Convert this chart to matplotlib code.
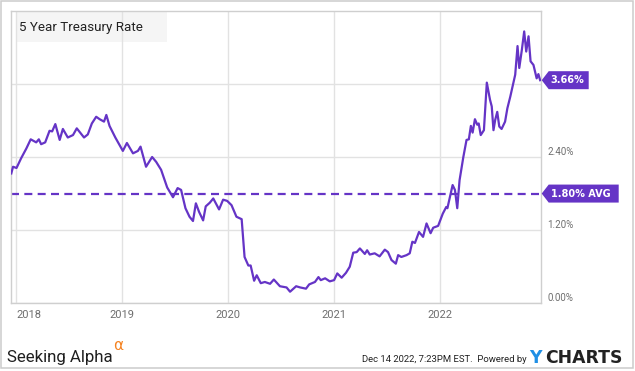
import numpy as np
import pandas as pd
import matplotlib
matplotlib.use('Agg')
import matplotlib.pyplot as plt
from matplotlib.patches import Rectangle, Polygon
from matplotlib.transforms import IdentityTransform, blended_transform_factory

# 5 year treasury rate (percent)
dates = [
    '2017-12-15', '2017-12-21', '2018-01-02', '2018-01-18', '2018-02-05', '2018-02-20',
    '2018-03-11', '2018-03-20', '2018-03-28', '2018-04-11', '2018-04-26', '2018-05-05',
    '2018-05-16', '2018-05-31', '2018-06-11', '2018-06-28', '2018-07-16', '2018-07-29',
    '2018-08-23', '2018-09-05', '2018-09-19', '2018-10-04', '2018-10-16', '2018-10-31',
    '2018-11-08', '2018-11-19', '2018-12-09', '2019-01-04', '2019-01-18', '2019-02-08',
    '2019-02-25', '2019-03-06', '2019-03-25', '2019-04-15', '2019-04-29', '2019-05-16',
    '2019-06-06', '2019-06-26', '2019-07-12', '2019-07-24', '2019-08-08', '2019-08-22',
    '2019-09-03', '2019-09-13', '2019-09-24', '2019-10-08', '2019-10-17', '2019-10-31',
    '2019-11-12', '2019-12-02', '2019-12-16', '2019-12-30', '2020-01-14', '2020-01-31',
    '2020-02-18', '2020-02-28', '2020-03-12', '2020-03-20', '2020-04-01', '2020-04-10',
    '2020-04-24', '2020-05-08', '2020-05-26', '2020-06-08', '2020-06-29', '2020-07-22',
    '2020-08-03', '2020-08-24', '2020-09-07', '2020-09-27', '2020-10-08', '2020-10-28',
    '2020-11-09', '2020-11-17', '2020-12-02', '2020-12-18', '2021-01-02', '2021-01-13',
    '2021-01-28', '2021-02-12', '2021-02-25', '2021-03-09', '2021-03-21', '2021-04-01',
    '2021-04-12', '2021-04-18', '2021-04-26', '2021-05-05', '2021-05-22', '2021-06-08',
    '2021-06-26', '2021-07-07', '2021-07-19', '2021-08-03', '2021-08-11', '2021-08-22',
    '2021-09-09', '2021-09-20', '2021-09-29', '2021-10-08', '2021-10-22', '2021-11-05',
    '2021-11-17', '2021-12-01', '2021-12-10', '2021-12-27', '2022-01-12', '2022-01-24',
    '2022-01-28', '2022-02-15', '2022-02-23', '2022-03-03', '2022-03-11', '2022-03-24',
    '2022-04-04', '2022-04-12', '2022-04-19', '2022-04-25', '2022-05-03', '2022-05-11',
    '2022-05-16', '2022-05-23', '2022-06-03', '2022-06-13', '2022-06-24', '2022-06-30',
    '2022-07-06', '2022-07-12', '2022-07-19', '2022-07-26', '2022-08-03', '2022-08-15',
    '2022-08-23', '2022-09-02', '2022-09-19', '2022-09-27', '2022-10-03', '2022-10-12',
    '2022-10-20', '2022-10-27', '2022-11-04', '2022-11-11', '2022-11-21', '2022-12-02',
    '2022-12-08', '2022-12-14',
]
rates = [
    2.13, 2.24, 2.22, 2.38, 2.54, 2.69,
    2.64, 2.69, 2.61, 2.64, 2.83, 2.82,
    2.94, 2.68, 2.86, 2.72, 2.76, 2.87,
    2.72, 2.77, 2.95, 3.06, 3.02, 2.98,
    3.09, 2.91, 2.72, 2.50, 2.63, 2.46,
    2.50, 2.57, 2.24, 2.40, 2.32, 2.19,
    1.90, 1.74, 1.89, 1.86, 1.56, 1.42,
    1.35, 1.64, 1.50, 1.36, 1.59, 1.65,
    1.72, 1.54, 1.70, 1.68, 1.61, 1.42,
    1.38, 0.76, 0.62, 0.62, 0.37, 0.46,
    0.33, 0.35, 0.32, 0.39, 0.28, 0.26,
    0.19, 0.28, 0.26, 0.24, 0.31, 0.35,
    0.43, 0.38, 0.41, 0.36, 0.38, 0.49,
    0.42, 0.50, 0.60, 0.83, 0.84, 0.90,
    0.84, 0.81, 0.87, 0.80, 0.82, 0.77,
    0.88, 0.84, 0.71, 0.65, 0.79, 0.76,
    0.79, 0.82, 1.01, 0.99, 1.17, 1.09,
    1.31, 1.15, 1.24, 1.27, 1.47, 1.58,
    1.56, 1.94, 1.86, 1.56, 2.02, 2.40,
    2.68, 2.69, 2.91, 2.80, 3.02, 2.93,
    2.95, 2.76, 2.84, 3.62, 3.34, 3.23,
    2.84, 3.01, 3.14, 2.90, 2.86, 2.98,
    3.20, 3.39, 3.75, 4.22, 3.86, 4.16,
    4.46, 4.13, 4.38, 3.97, 3.91, 3.69,
    3.76, 3.66,
]
avg_rate = 1.80
last_rate = 3.66
pct_ticks = [0.0, 1.2, 2.4, 3.6]
year_ticks = ['2018', '2019', '2020', '2021', '2022']
x_range = ('2017-12-14', '2022-12-17')
title = '5 Year Treasury Rate'
stamp = 'Dec 14 2022, 7:23PM EST.  Powered by'

purple = '#6534c6'
grey_txt = '#6e6e6e'

plt.rcParams['font.family'] = ['Roboto', 'DejaVu Sans']

W, H = 635, 371
fig = plt.figure(figsize=(W / 100, H / 100), dpi=100)
fig.patch.set_facecolor('white')
ax = fig.add_axes([11 / W, (H - 303.3) / H, 530 / W, 292.6 / H])

x = pd.to_datetime(dates)
ax.plot(x, rates, color=purple, lw=1.6, zorder=3, solid_joinstyle='round')
ax.axhline(avg_rate, color=purple, lw=1.6, ls=(0, (3.6, 2.4)), zorder=2)

ax.set_xlim(pd.to_datetime(x_range[0]), pd.to_datetime(x_range[1]))
ax.set_ylim(0, 4.8)

ax.set_xticks(pd.to_datetime([y + '-01-01' for y in year_ticks]))
ax.set_xticklabels(year_ticks)
ax.get_xticklabels()[0].set_horizontalalignment('left')
ax.tick_params(axis='x', length=0, pad=5, labelsize=8, labelcolor=grey_txt)
ax.set_yticks(pct_ticks)
ax.tick_params(axis='y', length=0, labelleft=False, labelright=False)
ax.grid(True, color='#e2e2e2', lw=1.0)
for s in ax.spines.values():
    s.set_color('#cfcfcf')
    s.set_linewidth(1.0)

# right side percent labels, sitting just above their gridlines
tr = blended_transform_factory(ax.transAxes, ax.transData)
for v in pct_ticks:
    if abs(v - last_rate) < 0.3:
        continue
    ax.text(1.0 + 6 / 530, v, '%.2f%%' % v, transform=tr, ha='left', va='bottom',
            fontsize=7, color=grey_txt, clip_on=False)

# title box
ax.add_patch(Rectangle((5 / 530, 0.894), 151 / 530, 0.106, transform=ax.transAxes,
                       facecolor='#f5f5f5', edgecolor='none', zorder=0.2))
ax.text(8.3 / 530, 0.944, title, transform=ax.transAxes, ha='left', va='center',
        fontsize=9.6, color='#222222', zorder=4)


def tag(value, text, width):
    x0 = ax.bbox.x1 + 0.7
    yc = ax.transData.transform((0, value))[1]
    pts = [(x0, yc), (x0 + 7, yc + 9), (x0 + width, yc + 9), (x0 + width, yc - 9), (x0 + 7, yc - 9)]
    fig.add_artist(Polygon(pts, closed=True, facecolor=purple, edgecolor='none',
                           transform=IdentityTransform(), zorder=5))
    fig.text((x0 + 9) / W, yc / H, text, ha='left', va='center', color='white',
             fontsize=7, fontweight='bold', family='DejaVu Sans', zorder=6)


tag(last_rate, '%.2f%%' % last_rate, 47)
tag(avg_rate, '%.2f%% AVG' % avg_rate, 77)

# footer
fig.text(7.3 / W, (H - 361.7) / H, 'Seeking Alpha', ha='left', va='baseline',
         fontsize=12.2, color='#1e1e1e')
fig.text(113 / W, (H - 350) / H, '\u03b1', ha='left', va='baseline',
         fontsize=11, color='#f58220', family='DejaVu Sans')
fig.text(361.7 / W, (H - 362.5) / H, stamp, ha='left', va='baseline',
         fontsize=6.8, color='#222222')
fig.text(529 / W, (H - 363.3) / H, 'Y', ha='left', va='baseline', fontsize=12.4,
         fontweight='bold', color='#1f8fe5', family='DejaVu Sans')
fig.text(545 / W, (H - 363.3) / H, 'CHARTS', ha='left', va='baseline', fontsize=12.4,
         fontweight='bold', color='#222222', family='DejaVu Sans')

# outer frame
fig.add_artist(Rectangle((1 / W, 2.7 / H), 632.3 / W, 367.3 / H, transform=fig.transFigure,
                         fill=False, edgecolor='#cccccc', lw=1.1))

fig.savefig('out.png', dpi=100, facecolor='white')
